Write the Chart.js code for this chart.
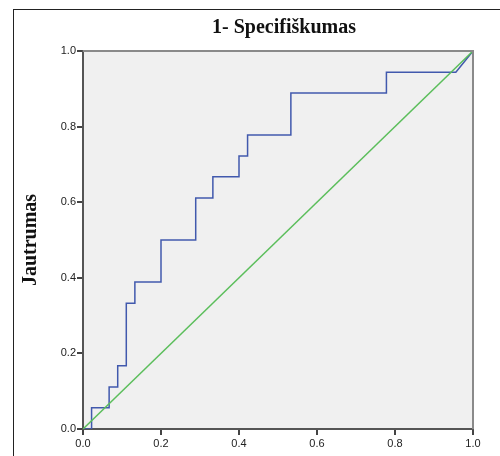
<!DOCTYPE html>
<html>
<head>
<meta charset="utf-8">
<script src="https://cdn.jsdelivr.net/npm/chart.js@4"></script>
<style>
  body { margin: 0; background: #fff; }
  #wrap { position: relative; width: 500px; height: 456px; }
  #frame { position: absolute; left: 13px; top: 9px; right: -2px; bottom: -2px;
           border-left: 1px solid #222; border-top: 1px solid #222; }
  canvas { position: absolute; left: 0; top: 0; }
</style>
</head>
<body>
<div id="wrap">
  <div id="frame"></div>
  <canvas id="roc" width="500" height="456"></canvas>
</div>
<script>
// ROC curve points (1 - specificity, sensitivity)
const fpr = [0, 0.022, 0.022, 0.067, 0.067, 0.089, 0.089, 0.111, 0.111, 0.133, 0.133, 0.2, 0.2,
  0.289, 0.289, 0.333, 0.333, 0.4, 0.4, 0.422, 0.422, 0.533, 0.533, 0.778, 0.778, 0.956, 1];
const tpr = [0, 0, 0.056, 0.056, 0.111, 0.111, 0.167, 0.167, 0.333, 0.333, 0.389, 0.389, 0.5,
  0.5, 0.611, 0.611, 0.667, 0.667, 0.722, 0.722, 0.778, 0.778, 0.889, 0.889, 0.944, 0.944, 1];
const refX = [0, 1];
const refY = [0, 1];
const tickLabels = ['0.0', '0.2', '0.4', '0.6', '0.8', '1.0'];
const chartTitle = '1- Specifiškumas';

const areaPlugin = {
  id: 'areaBg',
  beforeDraw(chart) {
    const { ctx, chartArea: a } = chart;
    ctx.save();
    ctx.fillStyle = '#F0F0F0';
    ctx.fillRect(a.left, a.top, a.right - a.left, a.bottom - a.top);
    ctx.restore();
  },
  afterDraw(chart) {
    const { ctx, chartArea: a } = chart;
    ctx.save();
    ctx.strokeStyle = '#8a8a8a';
    ctx.lineWidth = 2;
    ctx.beginPath();
    ctx.moveTo(a.left, a.top);
    ctx.lineTo(a.right, a.top);
    ctx.lineTo(a.right, a.bottom);
    ctx.stroke();
    // title, sits a bit right of the plot centre like the original
    ctx.fillStyle = '#111';
    ctx.font = 'bold 20px "Liberation Serif", "Times New Roman"';
    ctx.textAlign = 'center';
    ctx.textBaseline = 'middle';
    ctx.fillText(chartTitle, (a.left + a.right) / 2 + 6, 28);
    ctx.restore();
  }
};

const tickFont = { family: 'Liberation Sans, Arial', size: 11 };

new Chart(document.getElementById('roc'), {
  type: 'scatter',
  data: {
    datasets: [{
      data: fpr.map((x, i) => ({ x: x, y: tpr[i] })),
      showLine: true,
      borderColor: '#4159AD',
      borderWidth: 1.5,
      pointRadius: 0,
      order: 2
    }, {
      data: refX.map((x, i) => ({ x: x, y: refY[i] })),
      showLine: true,
      borderColor: '#5BBE5B',
      borderWidth: 1.5,
      pointRadius: 0,
      order: 1
    }]
  },
  options: {
    responsive: false,
    animation: false,
    layout: { padding: { left: 14, right: 27, top: 51, bottom: 0 } },
    plugins: {
      legend: { display: false },
      tooltip: { enabled: false },
      title: { display: false }
    },
    scales: {
      x: {
        type: 'linear',
        min: 0, max: 1,
        afterFit: (s) => { s.height = 27; },
        afterBuildTicks: (s) => { s.ticks = tickLabels.map(v => ({ value: parseFloat(v) })); },
        grid: { display: true, drawOnChartArea: false, drawTicks: true, tickLength: 6, color: '#444', lineWidth: 2 },
        border: { display: true, color: '#555', width: 2 },
        ticks: {
          color: '#222', font: tickFont, padding: 2, maxRotation: 0,
          callback: (v) => tickLabels[Math.round(v * 5)]
        }
      },
      y: {
        type: 'linear',
        min: 0, max: 1,
        afterFit: (s) => { s.width = 69; },
        afterBuildTicks: (s) => { s.ticks = tickLabels.map(v => ({ value: parseFloat(v) })); },
        grid: { display: true, drawOnChartArea: false, drawTicks: true, tickLength: 6, color: '#444', lineWidth: 2 },
        border: { display: true, color: '#555', width: 2 },
        ticks: {
          color: '#222', font: tickFont, padding: 1,
          callback: (v) => tickLabels[Math.round(v * 5)]
        },
        title: {
          display: true,
          text: 'Jautrumas',
          color: '#111',
          font: { family: 'Liberation Serif, Times New Roman', size: 20, weight: 'bold' },
          padding: { top: 5, bottom: 0 }
        }
      }
    }
  },
  plugins: [areaPlugin]
});
</script>
</body>
</html>
